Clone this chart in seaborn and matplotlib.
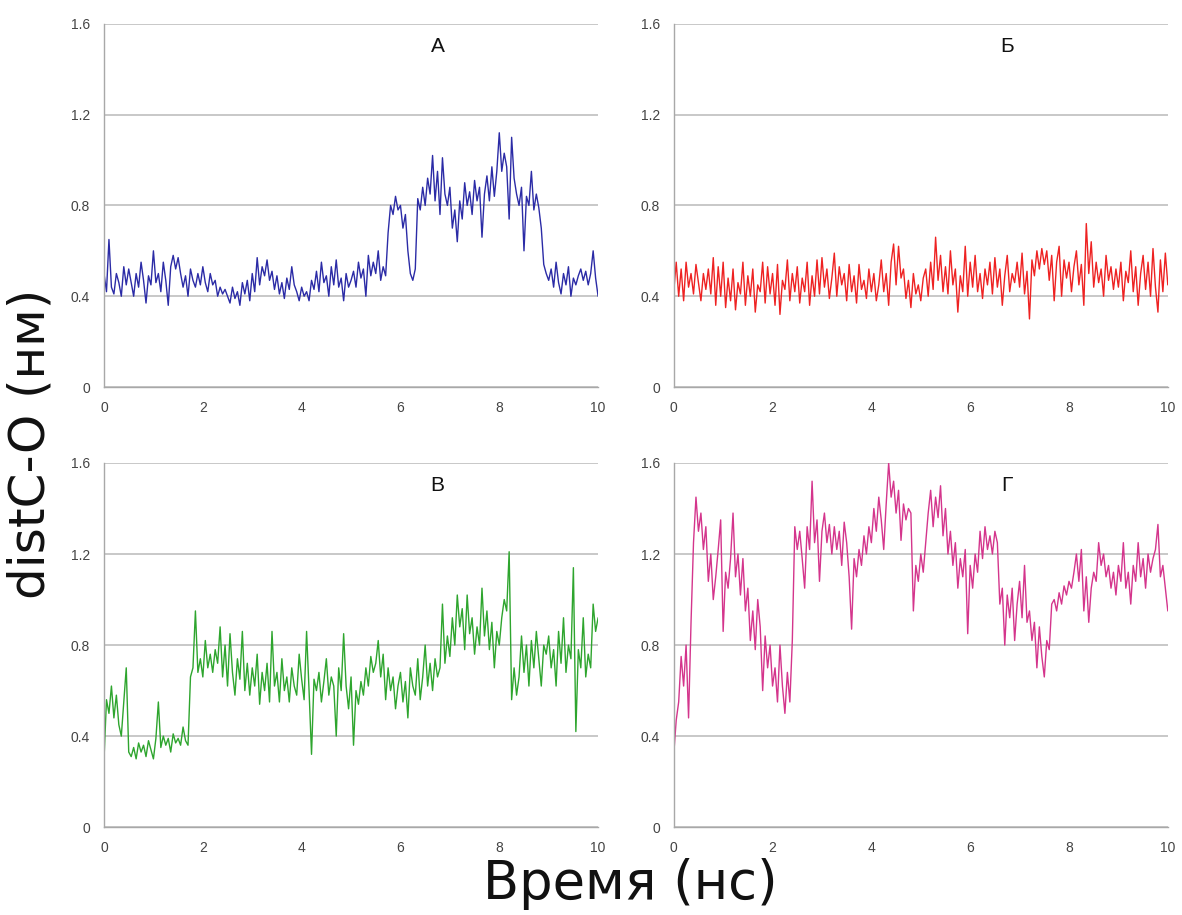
import numpy as np
import pandas as pd
import matplotlib
matplotlib.use("Agg")
import matplotlib.pyplot as plt
import seaborn as sns

# time axis (ns), step 0.05
time_ns = np.round(np.arange(0, 201) * 0.05, 2)

dist_A = [
    0.50, 0.42, 0.65, 0.44, 0.41, 0.50, 0.46, 0.40, 0.53, 0.45,
    0.52, 0.46, 0.40, 0.50, 0.44, 0.55, 0.47, 0.37, 0.49, 0.45,
    0.60, 0.46, 0.50, 0.42, 0.55, 0.47, 0.36, 0.53, 0.58, 0.52,
    0.57, 0.50, 0.44, 0.49, 0.40, 0.52, 0.47, 0.44, 0.50, 0.45,
    0.53, 0.46, 0.42, 0.50, 0.45, 0.47, 0.40, 0.44, 0.41, 0.43,
    0.40, 0.37, 0.44, 0.39, 0.42, 0.36, 0.46, 0.41, 0.47, 0.38,
    0.50, 0.42, 0.57, 0.45, 0.53, 0.49, 0.56, 0.47, 0.51, 0.43,
    0.49, 0.41, 0.46, 0.39, 0.48, 0.43, 0.53, 0.45, 0.42, 0.38,
    0.44, 0.40, 0.42, 0.38, 0.47, 0.43, 0.51, 0.42, 0.55, 0.46,
    0.49, 0.40, 0.53, 0.45, 0.56, 0.44, 0.48, 0.38, 0.50, 0.44,
    0.47, 0.51, 0.44, 0.55, 0.48, 0.52, 0.40, 0.58, 0.49, 0.55,
    0.50, 0.60, 0.47, 0.53, 0.49, 0.68, 0.80, 0.76, 0.84, 0.78,
    0.80, 0.70, 0.76, 0.60, 0.50, 0.47, 0.52, 0.83, 0.78, 0.88,
    0.80, 0.92, 0.85, 1.02, 0.82, 0.95, 0.76, 1.01, 0.85, 0.80,
    0.88, 0.70, 0.78, 0.64, 0.82, 0.74, 0.90, 0.80, 0.86, 0.76,
    0.91, 0.82, 0.88, 0.66, 0.85, 0.93, 0.82, 0.97, 0.84, 0.95,
    1.12, 0.95, 1.03, 0.97, 0.74, 1.10, 0.92, 0.85, 0.80, 0.88,
    0.60, 0.84, 0.80, 0.95, 0.78, 0.85, 0.79, 0.70, 0.54, 0.50,
    0.47, 0.52, 0.44, 0.55, 0.46, 0.41, 0.50, 0.45, 0.53, 0.40,
    0.48, 0.45, 0.49, 0.52, 0.47, 0.51, 0.45, 0.50, 0.60, 0.48,
    0.40,
]

dist_B = [
    0.42, 0.55, 0.40, 0.52, 0.38, 0.55, 0.44, 0.50, 0.41, 0.54,
    0.46, 0.38, 0.50, 0.43, 0.52, 0.41, 0.57, 0.36, 0.53, 0.40,
    0.55, 0.35, 0.48, 0.38, 0.52, 0.34, 0.46, 0.41, 0.55, 0.36,
    0.49, 0.40, 0.52, 0.33, 0.45, 0.42, 0.55, 0.37, 0.53, 0.41,
    0.50, 0.36, 0.54, 0.32, 0.47, 0.43, 0.56, 0.38, 0.50, 0.42,
    0.53, 0.37, 0.48, 0.42, 0.55, 0.36, 0.49, 0.40, 0.56, 0.41,
    0.57, 0.44, 0.52, 0.39, 0.48, 0.59, 0.40, 0.53, 0.45, 0.50,
    0.38, 0.54, 0.42, 0.49, 0.37, 0.54, 0.43, 0.47, 0.39, 0.52,
    0.42, 0.50, 0.38, 0.45, 0.56, 0.42, 0.50, 0.36, 0.55, 0.63,
    0.45, 0.62, 0.48, 0.52, 0.39, 0.47, 0.35, 0.50, 0.41, 0.45,
    0.38, 0.48, 0.52, 0.40, 0.55, 0.43, 0.66, 0.47, 0.58, 0.42,
    0.53, 0.41, 0.60, 0.45, 0.52, 0.33, 0.49, 0.42, 0.62, 0.40,
    0.55, 0.44, 0.58, 0.42, 0.50, 0.39, 0.52, 0.45, 0.55, 0.41,
    0.57, 0.44, 0.52, 0.36, 0.49, 0.58, 0.42, 0.50, 0.46, 0.55,
    0.44, 0.59, 0.41, 0.51, 0.30, 0.56, 0.49, 0.60, 0.52, 0.61,
    0.54, 0.60, 0.47, 0.58, 0.38, 0.55, 0.62, 0.40, 0.56, 0.48,
    0.55, 0.42, 0.53, 0.60, 0.45, 0.54, 0.36, 0.72, 0.50, 0.64,
    0.44, 0.55, 0.46, 0.52, 0.40, 0.58, 0.47, 0.53, 0.43, 0.52,
    0.44, 0.55, 0.38, 0.51, 0.46, 0.60, 0.42, 0.53, 0.36, 0.50,
    0.58, 0.43, 0.55, 0.40, 0.61, 0.44, 0.33, 0.56, 0.42, 0.59,
    0.45,
]

dist_V = [
    0.30, 0.56, 0.50, 0.62, 0.48, 0.58, 0.45, 0.40, 0.55, 0.70,
    0.33, 0.31, 0.35, 0.30, 0.37, 0.33, 0.36, 0.31, 0.38, 0.34,
    0.30, 0.39, 0.55, 0.35, 0.40, 0.36, 0.39, 0.33, 0.41, 0.37,
    0.39, 0.36, 0.44, 0.38, 0.36, 0.66, 0.70, 0.95, 0.68, 0.74,
    0.66, 0.82, 0.70, 0.76, 0.68, 0.78, 0.72, 0.88, 0.66, 0.80,
    0.62, 0.85, 0.68, 0.58, 0.74, 0.65, 0.86, 0.60, 0.72, 0.58,
    0.70, 0.62, 0.76, 0.54, 0.68, 0.60, 0.72, 0.55, 0.86, 0.62,
    0.68, 0.55, 0.74, 0.60, 0.66, 0.55, 0.70, 0.62, 0.58, 0.76,
    0.65, 0.56, 0.86, 0.60, 0.32, 0.65, 0.60, 0.68, 0.55, 0.64,
    0.74, 0.58, 0.66, 0.62, 0.40, 0.70, 0.60, 0.85, 0.62, 0.52,
    0.66, 0.36, 0.60, 0.54, 0.64, 0.58, 0.70, 0.62, 0.75, 0.68,
    0.72, 0.82, 0.66, 0.76, 0.56, 0.70, 0.60, 0.66, 0.52, 0.62,
    0.68, 0.55, 0.64, 0.48, 0.70, 0.62, 0.58, 0.74, 0.56, 0.66,
    0.80, 0.62, 0.72, 0.60, 0.74, 0.66, 0.70, 0.98, 0.72, 0.84,
    0.75, 0.92, 0.80, 1.02, 0.88, 0.96, 0.78, 1.02, 0.85, 0.92,
    0.76, 0.88, 0.80, 1.05, 0.84, 0.95, 0.78, 0.90, 0.70, 0.86,
    0.80, 0.92, 1.00, 0.95, 1.21, 0.56, 0.70, 0.58, 0.66, 0.84,
    0.68, 0.80, 0.62, 0.82, 0.70, 0.86, 0.74, 0.62, 0.80, 0.76,
    0.84, 0.70, 0.78, 0.62, 0.86, 0.72, 0.92, 0.68, 0.80, 0.74,
    1.14, 0.42, 0.78, 0.70, 0.92, 0.66, 0.76, 0.70, 0.98, 0.86,
    0.92,
]

dist_G = [
    0.32, 0.47, 0.55, 0.75, 0.62, 0.80, 0.48, 0.90, 1.25, 1.45,
    1.30, 1.38, 1.22, 1.32, 1.08, 1.20, 1.00, 1.10, 1.22, 1.35,
    0.86, 1.12, 1.05, 1.18, 1.38, 1.10, 1.20, 1.02, 1.18, 0.95,
    1.05, 0.82, 0.95, 0.78, 1.00, 0.88, 0.60, 0.84, 0.70, 0.80,
    0.62, 0.70, 0.55, 0.80, 0.62, 0.50, 0.68, 0.55, 0.82, 1.32,
    1.22, 1.30, 1.18, 1.05, 1.32, 1.22, 1.52, 1.25, 1.35, 1.08,
    1.30, 1.38, 1.25, 1.33, 1.20, 1.32, 1.22, 1.30, 1.15, 1.34,
    1.25, 1.10, 0.87, 1.18, 1.10, 1.22, 1.15, 1.28, 1.20, 1.32,
    1.25, 1.40, 1.30, 1.45, 1.35, 1.22, 1.42, 1.60, 1.45, 1.52,
    1.38, 1.48, 1.26, 1.42, 1.35, 1.40, 1.38, 0.95, 1.15, 1.08,
    1.20, 1.12, 1.25, 1.38, 1.48, 1.32, 1.45, 1.36, 1.50, 1.28,
    1.40, 1.20, 1.30, 1.15, 1.25, 1.05, 1.18, 1.10, 1.22, 0.85,
    1.15, 1.05, 1.20, 1.12, 1.30, 1.18, 1.32, 1.22, 1.28, 1.20,
    1.30, 1.25, 0.98, 1.05, 0.80, 1.02, 0.92, 1.05, 0.82, 0.98,
    1.08, 0.92, 1.15, 0.90, 0.95, 0.82, 0.90, 0.70, 0.88, 0.75,
    0.66, 0.82, 0.78, 0.98, 1.00, 0.95, 1.03, 0.98, 1.06, 1.02,
    1.08, 1.05, 1.12, 1.20, 1.08, 1.22, 0.95, 1.10, 0.90, 1.05,
    1.12, 1.08, 1.25, 1.15, 1.20, 1.10, 1.15, 1.05, 1.12, 1.02,
    1.15, 1.08, 1.25, 1.05, 1.12, 0.98, 1.15, 1.08, 1.25, 1.10,
    1.18, 1.05, 1.20, 1.12, 1.18, 1.22, 1.33, 1.10, 1.15, 1.05,
    0.95,
]

panel_labels = ["А", "Б", "В", "Г"]
panel_colors = ["#2b2ba6", "#ee2222", "#2ea52e", "#d4358c"]
series = [dist_A, dist_B, dist_V, dist_G]
x_ticks = [0, 2, 4, 6, 8, 10]
y_ticks = [0, 0.4, 0.8, 1.2, 1.6]
y_tick_labels = ["0", "0.4", "0.8", "1.2", "1.6"]
x_label = "Время (нс)"
y_label = "distC-O (нм)"

sns.set_style("white")
plt.rcParams["font.family"] = ["DejaVu Sans"]

fig = plt.figure(figsize=(11.82, 9.15), dpi=100)
positions = [
    [0.088, 0.577, 0.418, 0.397],
    [0.570, 0.577, 0.418, 0.397],
    [0.088, 0.096, 0.418, 0.398],
    [0.570, 0.096, 0.418, 0.398],
]

for pos, lab, col, vals in zip(positions, panel_labels, panel_colors, series):
    ax = fig.add_axes(pos)
    df = pd.DataFrame({"t": time_ns, "d": vals})
    sns.lineplot(data=df, x="t", y="d", ax=ax, color=col, linewidth=1.0)
    ax.set_xlim(0, 10)
    ax.set_ylim(0, 1.6)
    ax.set_xticks(x_ticks)
    ax.set_yticks(y_ticks)
    ax.set_yticklabels(y_tick_labels)
    ax.set_xlabel("")
    ax.set_ylabel("")
    ax.grid(axis="y", color="#c4c4c4", linewidth=1.3)
    ax.grid(axis="x", visible=False)
    ax.set_axisbelow(True)
    for s in ["top", "right"]:
        ax.spines[s].set_visible(False)
    for s in ["left", "bottom"]:
        ax.spines[s].set_color("#a8a8a8")
        ax.spines[s].set_linewidth(1.0)
    ax.tick_params(axis="both", which="major", direction="out", length=4,
                   width=1.0, color="#a8a8a8", labelsize=10,
                   labelcolor="#444444", pad=6)
    for t in ax.get_xticklabels() + ax.get_yticklabels():
        t.set_family(["Liberation Sans", "DejaVu Sans"])
    ax.text(6.75, 1.5, lab, fontsize=15, ha="center", va="center",
            color="#111111", family=["Liberation Sans", "DejaVu Sans"])

fig.text(0.026, 0.515, y_label, rotation=90, fontsize=36,
         ha="center", va="center", color="#111111")
fig.text(0.533, 0.034, x_label, fontsize=38,
         ha="center", va="center", color="#111111")

fig.savefig("out.png", dpi=100)
